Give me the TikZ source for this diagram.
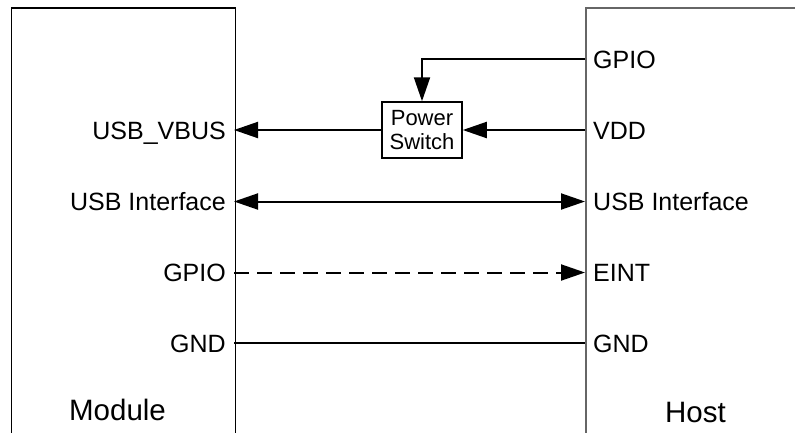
\documentclass[tikz,border=0pt]{standalone}
\usepackage{fontspec}
\setmainfont{Liberation Sans}
\usetikzlibrary{arrows.meta}
\begin{document}
\begin{tikzpicture}[x=1pt,y=-1pt,
  sig/.style={line width=2pt},
  thinsig/.style={line width=1.2pt},
  head/.style={-{Triangle[length=24pt,width=16pt]}},
  bothheads/.style={{Triangle[length=24pt,width=16pt]}-{Triangle[length=24pt,width=16pt]}},
  pin/.style={font=\fontsize{25}{30}\selectfont, inner sep=0pt},
  pinl/.style={pin, anchor=base east},
  pinr/.style={pin, anchor=base west},
  title/.style={font=\fontsize{29.5}{34}\selectfont, inner sep=0pt, anchor=base},
  block/.style={line width=1.6pt, minimum width=224pt, minimum height=470pt,
    inner sep=0pt, anchor=north west}]
\useasboundingbox (0,0) rectangle (795,432);
\clip (0,0) rectangle (795,432);

% the two devices (open towards the edges of the page)
\node[block, draw=black] (module) at (10.5,7) {};
\node[block, draw=gray!80!black, minimum width=260pt] (host) at (585,7) {};

% pin labels
\node[pinl] (mvbus) at (226,139) {USB\_VBUS};
\node[pinl] (musb)  at (226,210.5) {USB Interface};
\node[pinl] (mgpio) at (226,281.5) {GPIO};
\node[pinl] (mgnd)  at (226,352) {GND};

\node[pinr] (hgpio) at (593,68) {GPIO};
\node[pinr] (hvdd)  at (593,139) {VDD};
\node[pinr] (husb)  at (593,210.5) {USB Interface};
\node[pinr] (heint) at (593,281.5) {EINT};
\node[pinr] (hgnd)  at (593,352) {GND};

\node[title] (mtitle) at (117.5,420) {Module};
\node[title] (htitle) at (695.5,422) {Host};

% power switch
\node[draw, line width=1.5pt, minimum width=80pt, minimum height=56pt, inner sep=0pt,
  align=center, font=\fontsize{22}{24}\selectfont] (sw) at (422,130) {Power\\Switch};

% connection points on the device edges
\coordinate (m1) at (234,130);
\coordinate (m2) at (234,201.5);
\coordinate (m3) at (234,272.5);
\coordinate (m4) at (234,343);
\coordinate (h0) at (585,59);
\coordinate (h1) at (585,130);
\coordinate (h2) at (585,201.5);
\coordinate (h3) at (585,272.5);
\coordinate (h4) at (585,343);

% connectors
\draw[sig, head] (h0) -| (sw.north);
\draw[sig, head] (h1) -- (sw.east);
\draw[sig, head] (sw.west) -- (m1);
\draw[sig, bothheads] (m2) -- (h2);
\draw[sig, head, dash pattern=on 15pt off 8pt] (m3) -- (h3);
\draw[thinsig] (m4) -- (h4);
\end{tikzpicture}
\end{document}
